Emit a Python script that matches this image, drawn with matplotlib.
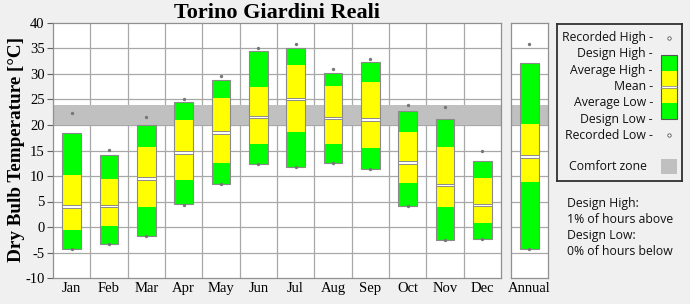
import numpy as np
import matplotlib.pyplot as plt
from matplotlib.patches import Rectangle

plt.rcParams["axes.unicode_minus"] = False

months = ["Jan", "Feb", "Mar", "Apr", "May", "Jun", "Jul", "Aug", "Sep", "Oct", "Nov", "Dec"]
rec_high = [22.3, 15.1, 21.6, 25.1, 29.6, 35.1, 35.9, 31.0, 33.0, 24.0, 23.5, 15.0]
design_high = [18.5, 14.1, 20.0, 24.5, 28.8, 34.5, 35.1, 30.2, 32.3, 22.7, 21.1, 12.9]
avg_high = [10.2, 9.5, 15.7, 20.9, 25.2, 27.5, 31.8, 27.7, 28.5, 18.7, 15.7, 9.7]
mean = [4.0, 4.1, 9.5, 14.6, 18.5, 21.6, 25.1, 21.4, 21.1, 12.6, 8.2, 4.3]
avg_low = [-0.5, 0.1, 4.0, 9.2, 12.5, 16.3, 18.7, 16.2, 15.5, 8.7, 4.0, 0.8]
design_low = [-4.4, -3.3, -1.8, 4.5, 8.5, 12.3, 11.8, 12.5, 11.4, 4.2, -2.5, -2.4]
rec_low = [-4.4, -3.3, -1.8, 4.4, 8.5, 12.3, 11.8, 12.5, 11.4, 4.2, -2.5, -2.4]

annual = {"rec_high": 35.9, "design_high": 32.2, "avg_high": 20.2, "mean": 13.8,
          "avg_low": 8.8, "design_low": -4.4, "rec_low": -4.4}

comfort_low, comfort_high = 20.0, 23.9

GREEN = "#00ff00"
YELLOW = "#ffff00"
EDGE = "#8a8a8a"
GRID = "#a8a8a8"
BG = "#f0f0f0"
SERIF = "Liberation Serif"
SANS = "Open Sans"

W, H = 690, 304


def fr(x0, y0, x1, y1):
    return [x0 / W, 1 - y1 / H, (x1 - x0) / W, (y1 - y0) / H]


def draw_bars(ax, x, rh, dh, ah, mn, al, dl, rl, width=0.5):
    x = np.asarray(x, dtype=float)
    ax.bar(x, np.subtract(al, dl), width, bottom=dl, color=GREEN, zorder=3)
    ax.bar(x, np.subtract(mn, al), width, bottom=al, color=YELLOW, zorder=3)
    ax.bar(x, np.subtract(ah, mn), width, bottom=mn, color=YELLOW, zorder=3)
    ax.bar(x, np.subtract(dh, ah), width, bottom=ah, color=GREEN, zorder=3)
    ax.bar(x, np.subtract(dh, dl), width, bottom=dl, fill=False, edgecolor=EDGE,
           linewidth=0.8, zorder=4)
    ax.bar(x, 0.5, width, bottom=np.subtract(mn, 0.25), color="white",
           edgecolor=EDGE, linewidth=0.7, zorder=4)
    ax.scatter(x, rh, s=2, color="#777777", zorder=5)
    ax.scatter(x, rl, s=2, color="#777777", zorder=5)


def style_axes(ax):
    ax.set_facecolor("white")
    ax.set_ylim(-10, 40)
    ax.set_yticks(range(-10, 41, 5))
    for y in range(-5, 40, 5):
        ax.axhline(y, color=GRID, lw=0.9, zorder=1)
    ax.axhspan(comfort_low, comfort_high, color="#c0c0c0", lw=0, zorder=2)
    for s in ax.spines.values():
        s.set_color("#909090")
        s.set_linewidth(0.9)
    ax.tick_params(length=0, labelsize=10.5, pad=3)
    for lab in ax.get_xticklabels() + ax.get_yticklabels():
        lab.set_family(SERIF)


fig = plt.figure(figsize=(W / 100, H / 100), dpi=100, facecolor=BG)

ax = fig.add_axes(fr(53, 23, 501, 278))
x = np.arange(len(months))
draw_bars(ax, x, rec_high, design_high, avg_high, mean, avg_low, design_low, rec_low)
ax.set_xlim(-0.5, len(months) - 0.5)
ax.set_xticks(x)
ax.set_xticklabels(months)
for b in np.arange(0.5, len(months) - 0.5):
    ax.axvline(b, color=GRID, lw=0.9, zorder=1)
style_axes(ax)
ax.tick_params(axis="y", length=4, color="#606060", pad=2)
ax.set_ylabel("Dry Bulb Temperature [°C]", family=SERIF, fontsize=13.8,
              fontweight="bold")
ax.yaxis.set_label_coords(-0.062, 0.505)
ax.set_title("Torino Giardini Reali", family=SERIF, fontsize=16,
             fontweight="bold", pad=1)

ax2 = fig.add_axes(fr(510.7, 23, 548, 278))
draw_bars(ax2, [0], [annual["rec_high"]], [annual["design_high"]], [annual["avg_high"]],
          [annual["mean"]], [annual["avg_low"]], [annual["design_low"]], [annual["rec_low"]])
ax2.set_xlim(-0.5, 0.5)
ax2.set_xticks([0])
ax2.set_xticklabels(["Annual"])
style_axes(ax2)
ax2.set_yticklabels([])

# legend panel drawn in pixel units
lg = fig.add_axes(fr(556.7, 24, 682, 181))
lg.set_xlim(556.7, 682)
lg.set_ylim(181, 24)
lg.set_facecolor(BG)
for s in lg.spines.values():
    s.set_color("#303030")
    s.set_linewidth(1.3)
lg.set_xticks([])
lg.set_yticks([])

labels = ["Recorded High -", "Design High -", "Average High -", "Mean -",
          "Average Low -", "Design Low -", "Recorded Low -"]
for i, t in enumerate(labels):
    lg.text(653, 37.5 + i * 16.3, t, ha="right", va="center", family=SANS,
            fontsize=8.8, color="#111111")
lg.scatter([669, 669], [38, 135], s=6, facecolor="white", edgecolor="#555555",
           linewidth=0.6, zorder=5)
segs = [(55, 71, GREEN), (71, 86, YELLOW), (86, 88, "white"), (88, 103, YELLOW),
        (103, 119, GREEN)]
for y0, y1, c in segs:
    lg.add_patch(Rectangle((661, y0), 15.7, y1 - y0, facecolor=c, lw=0))
lg.plot([661, 676.7], [85.8, 85.8], color=EDGE, lw=0.6)
lg.plot([661, 676.7], [88.2, 88.2], color=EDGE, lw=0.6)
lg.add_patch(Rectangle((661, 55), 15.7, 64, fill=False, edgecolor="#555555", lw=0.8))
lg.text(569, 166.5, "Comfort zone", ha="left", va="center", family=SANS,
        fontsize=8.8, color="#111111")
lg.add_patch(Rectangle((661, 159), 15.7, 15, facecolor="#c0c0c0", lw=0))

notes = ["Design High:", "1% of hours above", "Design Low:", "0% of hours below"]
for i, t in enumerate(notes):
    fig.text(566.7 / W, 1 - (203 + i * 16.2) / H, t, ha="left", va="center",
             family=SANS, fontsize=8.8, color="#111111")

fig.savefig("out.png", dpi=100, facecolor=BG)
